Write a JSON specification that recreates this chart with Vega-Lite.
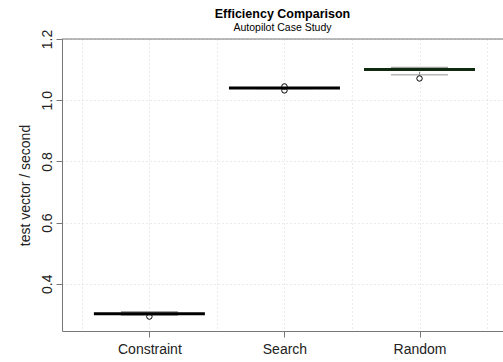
{
  "$schema": "https://vega.github.io/schema/vega-lite/v6.json",
  "width": 441,
  "height": 292,
  "autosize": "none",
  "padding": {"left": 62, "top": 39, "right": 0, "bottom": 31},
  "background": "white",
  "title": {
    "text": "Efficiency Comparison",
    "subtitle": "Autopilot Case Study",
    "font": "Liberation Sans",
    "fontSize": 12.5,
    "fontWeight": "bold",
    "color": "#000",
    "subtitleFont": "Liberation Sans",
    "subtitleFontSize": 10.5,
    "subtitleColor": "#000",
    "anchor": "middle",
    "frame": "group",
    "offset": -4,
    "subtitlePadding": 2
  },
  "config": {
    "view": {"stroke": null},
    "axis": {
      "labelFont": "Liberation Sans",
      "titleFont": "Liberation Sans",
      "labelFontSize": 14,
      "titleFontSize": 14,
      "labelColor": "#222",
      "titleColor": "#222",
      "titleFontWeight": "normal",
      "domainColor": "#777",
      "tickColor": "#777",
      "tickSize": 6,
      "gridColor": "#d6d6d6",
      "gridDash": [1, 3]
    },
    "axisY": {"labelAngle": -90, "labelAlign": "center", "labelBaseline": "bottom", "labelPadding": 2, "titlePadding": 8}
  },
  "datasets": {
    "boxes": [
      {"method": "Constraint", "idx": 1, "q1": 0.297, "median": 0.302, "q3": 0.311, "lo": 0.297},
      {"method": "Search", "idx": 2, "q1": 1.038, "median": 1.040, "q3": 1.042, "lo": 1.038},
      {"method": "Random", "idx": 3, "q1": 1.099, "median": 1.100, "q3": 1.109, "lo": 1.083}
    ],
    "outliers": [
      {"method": "Constraint", "idx": 1, "value": 0.293},
      {"method": "Search", "idx": 2, "value": 1.045},
      {"method": "Search", "idx": 2, "value": 1.032},
      {"method": "Random", "idx": 3, "value": 1.071}
    ]
  },
  "encoding": {
    "x": {
      "field": "idx",
      "type": "quantitative",
      "scale": {"domain": [0.39, 3.581], "nice": false, "zero": false},
      "axis": {
        "title": null,
        "values": [0.5, 1, 1.5, 2, 2.5, 3, 3.5],
        "labelExpr": "datum.value == 1 ? 'Constraint' : datum.value == 2 ? 'Search' : datum.value == 3 ? 'Random' : ''",
        "tickOpacity": {"condition": {"test": "datum.value % 1 != 0", "value": 0}, "value": 1},
        "labelPadding": 5,
        "grid": true
      }
    }
  },
  "layer": [
    {
      "data": {"name": "boxes"},
      "mark": {"type": "bar", "width": 57, "color": "#a3a3a3"},
      "encoding": {
        "y": {
          "field": "q1",
          "type": "quantitative",
          "title": "test vector / second",
          "scale": {"domain": [0.2458, 1.2], "nice": false, "zero": false},
          "axis": {"values": [0.4, 0.6, 0.8, 1.0, 1.2], "format": ".1f", "grid": true}
        },
        "y2": {"field": "q3"}
      }
    },
    {
      "data": {"name": "boxes"},
      "mark": {"type": "rule", "color": "#888", "strokeWidth": 1, "strokeDash": [3, 2]},
      "encoding": {
        "y": {"field": "lo", "type": "quantitative", "title": "test vector / second"},
        "y2": {"field": "q1"}
      }
    },
    {
      "data": {"name": "boxes"},
      "mark": {"type": "tick", "orient": "horizontal", "size": 57, "thickness": 1.5, "color": "#999"},
      "encoding": {
        "y": {"field": "lo", "type": "quantitative", "title": "test vector / second"}
      }
    },
    {
      "data": {"name": "boxes"},
      "mark": {"type": "tick", "orient": "horizontal", "size": 111, "thickness": 3, "opacity": 1},
      "encoding": {
        "y": {"field": "median", "type": "quantitative", "title": "test vector / second"},
        "color": {
          "field": "method",
          "type": "nominal",
          "scale": {"domain": ["Constraint", "Search", "Random"], "range": ["#000000", "#000000", "#0f2a0f"]},
          "legend": null
        }
      }
    },
    {
      "data": {"name": "outliers"},
      "mark": {"type": "point", "shape": "circle", "filled": false, "size": 30, "stroke": "#000", "strokeWidth": 1, "opacity": 1},
      "encoding": {
        "y": {"field": "value", "type": "quantitative", "title": "test vector / second"}
      }
    },
    {
      "data": {"values": [{}]},
      "mark": {"type": "rule", "color": "#777", "strokeWidth": 1},
      "encoding": {
        "x": null,
        "y": {"datum": 1.2, "type": "quantitative", "title": "test vector / second"}
      }
    }
  ]
}
